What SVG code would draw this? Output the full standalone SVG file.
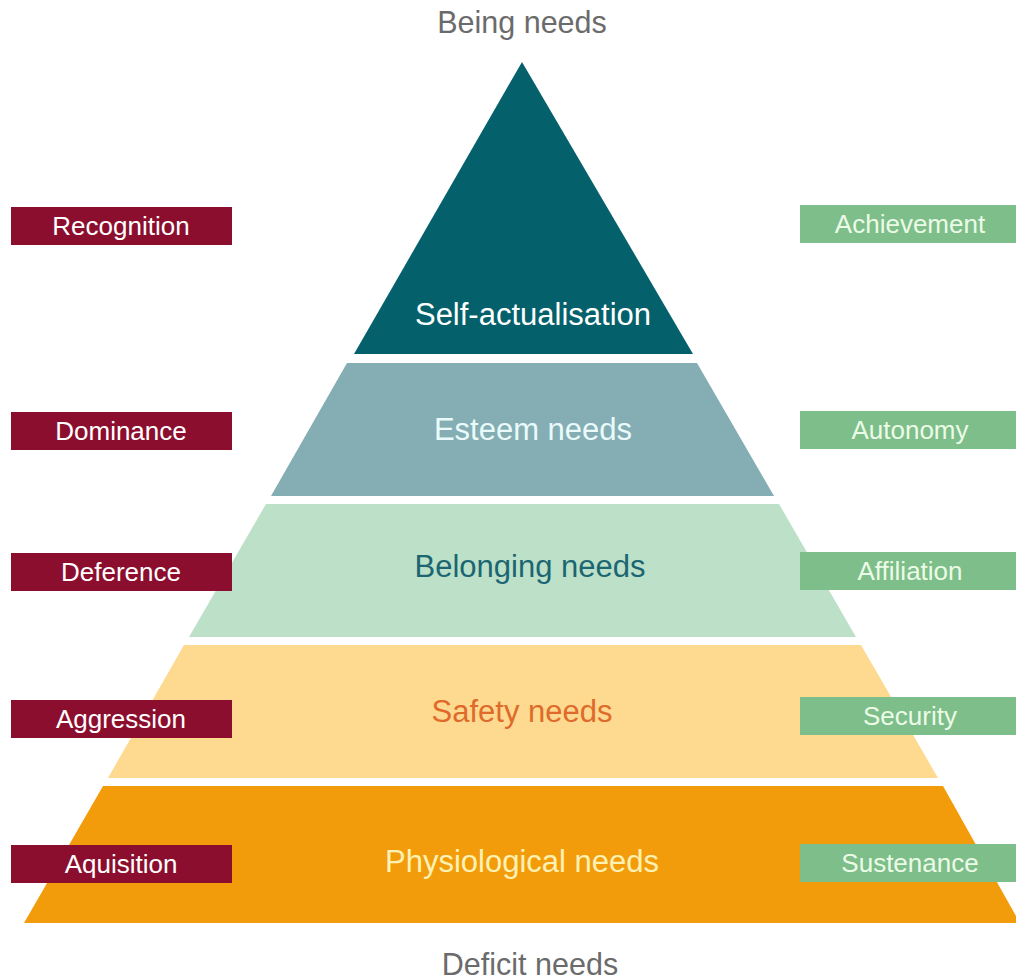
<svg xmlns="http://www.w3.org/2000/svg" width="1016" height="980" viewBox="0 0 1016 980">
<style>
text{font-family:"Liberation Sans",Arial,Helvetica,sans-serif;text-anchor:middle}
.big{font-size:31px}
.cap{font-size:30.5px;fill:#6b6b6b}
.lb{fill:#8c0e2e}
.rb{fill:#7dbe8a}
.lt{font-size:26px;fill:#ffffff}
.rt{font-size:26px;fill:#ecfbe6}
</style>
<rect width="1016" height="980" fill="#ffffff"/>
<text class="cap" x="522" y="33">Being needs</text>
<text class="cap" x="530" y="975">Deficit needs</text>
<g id="pyramid">
<g id="self-actualisation">
<polygon points="522,62 693,354 354,354" fill="#04616c"/>
<text class="big" x="533" y="325" fill="#ffffff">Self-actualisation</text>
</g>
<g id="esteem">
<polygon points="347,363 697,363 774,496 271,496" fill="#84aeb3"/>
<text class="big" x="533" y="440" fill="#eafafa">Esteem needs</text>
</g>
<g id="belonging">
<polygon points="266,504 779,504 856,637 189,637" fill="#bce1c8"/>
<text class="big" x="530" y="577" fill="#1b6672">Belonging needs</text>
</g>
<g id="safety">
<polygon points="184,645 861,645 938,778 108,778" fill="#fdda8f"/>
<text class="big" x="522" y="722" fill="#e06a2b">Safety needs</text>
</g>
<g id="physiological">
<polygon points="103,786 943,786 1020,923 24,923" fill="#f39c0b"/>
<text class="big" x="522" y="872" fill="#fdf1b3">Physiological needs</text>
</g>
</g>
<g id="left-labels">
<g id="recognition"><rect class="lb" x="11" y="207" width="221" height="38"/><text class="lt" x="121" y="235">Recognition</text></g>
<g id="dominance"><rect class="lb" x="11" y="412" width="221" height="38"/><text class="lt" x="121" y="440">Dominance</text></g>
<g id="deference"><rect class="lb" x="11" y="553" width="221" height="38"/><text class="lt" x="121" y="581">Deference</text></g>
<g id="aggression"><rect class="lb" x="11" y="700" width="221" height="38"/><text class="lt" x="121" y="728">Aggression</text></g>
<g id="aquisition"><rect class="lb" x="11" y="845" width="221" height="38"/><text class="lt" x="121" y="873">Aquisition</text></g>
</g>
<g id="right-labels">
<g id="achievement"><rect class="rb" x="800" y="205" width="216" height="38"/><text class="rt" x="910" y="233">Achievement</text></g>
<g id="autonomy"><rect class="rb" x="800" y="411" width="216" height="38"/><text class="rt" x="910" y="439">Autonomy</text></g>
<g id="affiliation"><rect class="rb" x="800" y="552" width="216" height="38"/><text class="rt" x="910" y="580">Affiliation</text></g>
<g id="security"><rect class="rb" x="800" y="697" width="216" height="38"/><text class="rt" x="910" y="725">Security</text></g>
<g id="sustenance"><rect class="rb" x="800" y="844" width="216" height="38"/><text class="rt" x="910" y="872">Sustenance</text></g>
</g>
<g id="connectors"/>
</svg>
